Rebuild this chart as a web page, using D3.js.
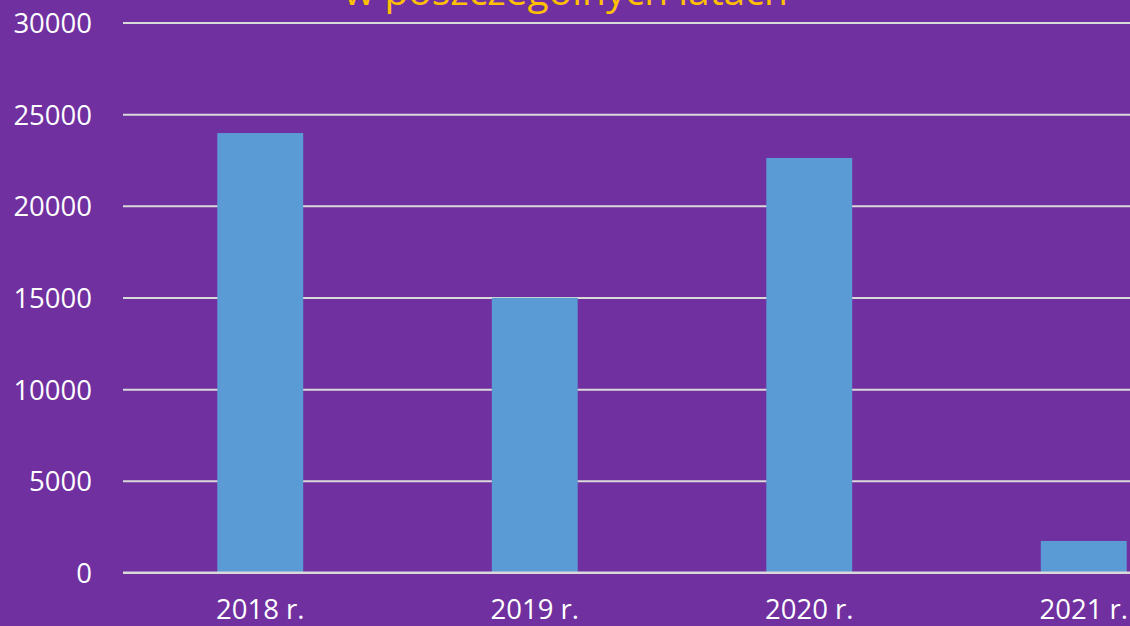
<!DOCTYPE html>
<html>
<head>
<meta charset="utf-8">
<script src="https://cdn.jsdelivr.net/npm/d3@7"></script>
<style>
  html, body { margin: 0; padding: 0; background: #7030A0; overflow: hidden; }
  svg { display: block; }
</style>
</head>
<body>
<svg id="chart" width="1130" height="626"></svg>
<script>
// values
const years = ["2018 r.", "2019 r.", "2020 r.", "2021 r."];
const counts = [23970, 14980, 22610, 1720];
const yTicks = [0, 5000, 10000, 15000, 20000, 25000, 30000];
const titleText = "w poszczególnych latach";

const svg = d3.select("#chart");
const font = "'Open Sans', 'Noto Sans', sans-serif";

// plot runs past the right edge, like the cropped slide
const x = d3.scaleBand()
  .domain(years)
  .range([123, 1221])
  .paddingInner(0.687)
  .paddingOuter(0.3435);

const y = d3.scaleLinear()
  .domain([0, 30000])
  .range([572.5, 22.5]);

// gridlines + y labels
const yAxis = d3.axisLeft(y)
  .tickValues(yTicks)
  .tickSize(-(1221 - 123))
  .tickPadding(31)
  .tickFormat(d3.format("d"));

const gy = svg.append("g")
  .attr("transform", "translate(123,0)")
  .call(yAxis);
gy.select(".domain").remove();
gy.selectAll(".tick line")
  .attr("stroke", "#D9D9D9")
  .attr("stroke-width", 2);
gy.selectAll(".tick text")
  .attr("fill", "#FFFFFF")
  .attr("font-family", font)
  .attr("font-size", 27.5)
  .attr("dy", "0.36em");

// bars
svg.append("g")
  .selectAll("rect")
  .data(counts)
  .join("rect")
  .attr("x", (d, i) => x(years[i]))
  .attr("y", d => y(d))
  .attr("width", x.bandwidth())
  .attr("height", d => y(0) - y(d))
  .attr("fill", "#5B9BD5");

// redraw the baseline over the bars
svg.append("line")
  .attr("x1", 123).attr("x2", 1221)
  .attr("y1", y(0)).attr("y2", y(0))
  .attr("stroke", "#D9D9D9")
  .attr("stroke-width", 2);

// x labels
const xAxis = d3.axisBottom(x).tickSize(0).tickPadding(26.5);
const gx = svg.append("g")
  .attr("transform", `translate(0,${y(0)})`)
  .call(xAxis);
gx.select(".domain").remove();
gx.selectAll(".tick text")
  .attr("fill", "#FFFFFF")
  .attr("font-family", font)
  .attr("font-size", 27.5);

// title, cut off at the top
svg.append("text")
  .attr("x", 566)
  .attr("y", 5)
  .attr("text-anchor", "middle")
  .attr("fill", "#FFC000")
  .attr("font-family", font)
  .attr("font-size", 39)
  .text(titleText);
</script>
</body>
</html>
